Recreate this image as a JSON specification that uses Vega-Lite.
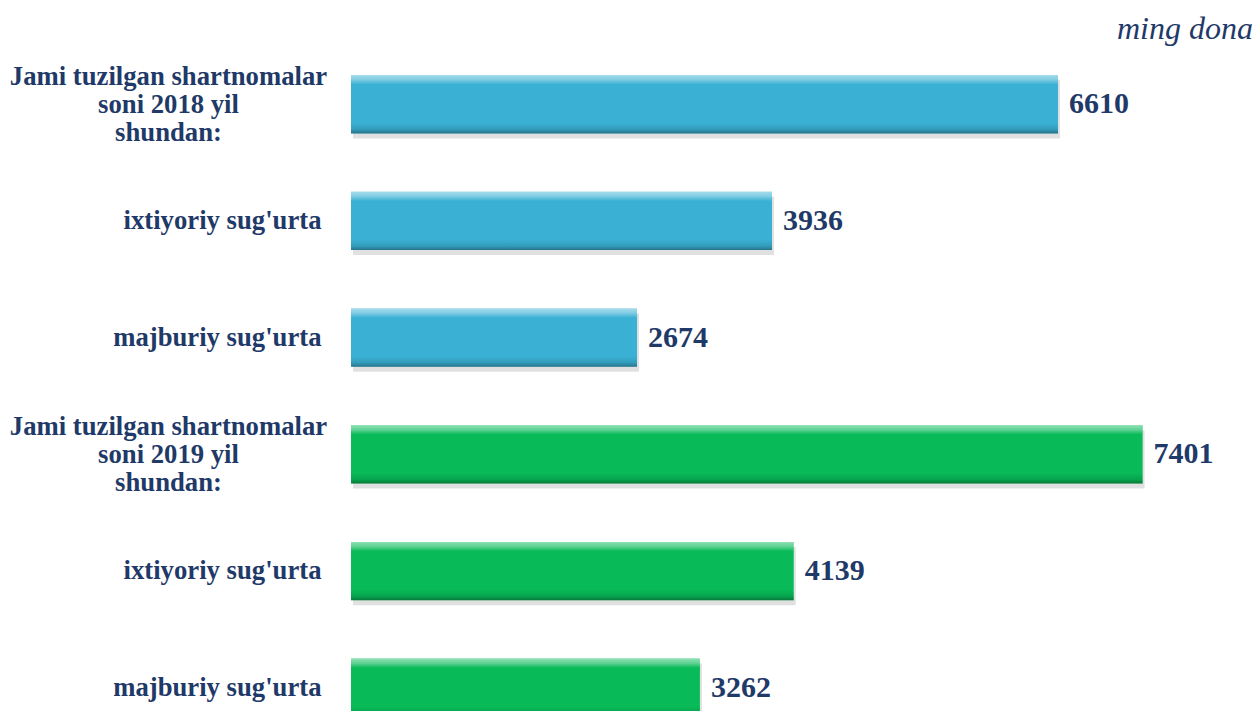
{
  "$schema": "https://vega.github.io/schema/vega-lite/v6.json",
  "width": 905,
  "height": 711,
  "autosize": {"type": "none"},
  "padding": {"left": 351, "top": 0, "right": 0, "bottom": 0},
  "background": "white",
  "config": {"view": {"stroke": null}, "title": {"font": "Liberation Serif"}},
  "title": {
    "text": "ming dona",
    "anchor": "end",
    "frame": "group",
    "orient": "top",
    "offset": -38,
    "dy": 33,
    "baseline": "alphabetic",
    "font": "Liberation Serif",
    "fontSize": 32,
    "fontStyle": "italic",
    "fontWeight": "normal",
    "color": "#1F3A68",
    "dx": -3
  },
  "data": {
    "values": [
      {"category": "Jami tuzilgan shartnomalar|soni 2018 yil|shundan:", "year": "2018", "value": 6610},
      {"category": "ixtiyoriy sug'urta", "year": "2018", "value": 3936},
      {"category": "majburiy sug'urta", "year": "2018", "value": 2674},
      {"category": "Jami tuzilgan shartnomalar|soni 2019 yil|shundan:", "year": "2019", "value": 7401},
      {"category": "ixtiyoriy sug'urta\u200b", "year": "2019", "value": 4139},
      {"category": "majburiy sug'urta\u200b", "year": "2019", "value": 3262}
    ]
  },
  "encoding": {
    "y": {
      "field": "category",
      "type": "nominal",
      "sort": null,
      "scale": {"range": [0, 792], "paddingInner": 0.5, "paddingOuter": 0.643},
      "axis": {
        "title": null,
        "domain": false,
        "ticks": false,
        "tickSize": 0,
        "labelPadding": {"condition": {"test": "indexof(datum.value, '|') >= 0", "value": 183}, "value": 30},
        "labelExpr": "split(datum.value, '|')",
        "labelFont": "Liberation Serif",
        "labelFontSize": 26.7,
        "labelFontWeight": "bold",
        "labelColor": "#1F3A68",
        "labelLineHeight": 28,
        "labelLimit": 0,
        "labelBaseline": "middle",
        "labelAlign": {"condition": {"test": "indexof(datum.value, '|') >= 0", "value": "center"}, "value": "right"},
        "labelOffset": {"condition": {"test": "indexof(datum.value, '|') >= 0", "value": -27}, "value": 0},
        "labelOverlap": false
      }
    },
    "x": {
      "field": "value",
      "type": "quantitative",
      "scale": {"domain": [0, 8461]},
      "axis": null
    }
  },
  "layer": [
    {
      "mark": {"type": "bar", "color": "#000000", "opacity": 0.12, "yOffset": 5, "xOffset": 2}
    },
    {
      "mark": {"type": "bar"},
      "encoding": {
        "color": {
          "field": "year",
          "type": "nominal",
          "scale": {"domain": ["2018", "2019"], "range": ["#3AB1D4", "#08BA58"]},
          "legend": null
        }
      }
    },
    {
      "mark": {
        "type": "bar",
        "fill": {
          "gradient": "linear",
          "x1": 0, "y1": 0, "x2": 0, "y2": 1,
          "stops": [
            {"offset": 0, "color": "rgba(255,255,255,0.55)"},
            {"offset": 0.08, "color": "rgba(255,255,255,0.35)"},
            {"offset": 0.16, "color": "rgba(255,255,255,0.0)"},
            {"offset": 0.82, "color": "rgba(0,0,0,0.0)"},
            {"offset": 0.93, "color": "rgba(0,0,0,0.12)"},
            {"offset": 1, "color": "rgba(0,0,0,0.35)"}
          ]
        }
      }
    },
    {
      "mark": {
        "type": "text",
        "align": "left",
        "baseline": "middle",
        "dx": 11,
        "font": "Liberation Serif",
        "fontSize": 30,
        "fontWeight": "bold",
        "color": "#1F3A68"
      },
      "encoding": {
        "text": {"field": "value", "type": "quantitative", "format": "d"}
      }
    }
  ]
}
